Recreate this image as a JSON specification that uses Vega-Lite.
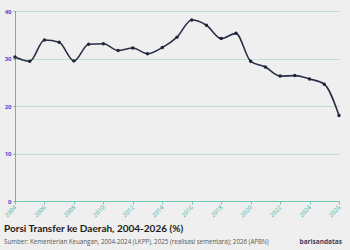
{
  "$schema": "https://vega.github.io/schema/vega-lite/v6.json",
  "width": 324,
  "height": 190,
  "autosize": {"type": "none"},
  "padding": {"left": 15, "top": 11, "right": 11, "bottom": 49},
  "background": "#efefef",
  "config": {"view": {"stroke": null}},
  "title": {
    "text": "Porsi Transfer ke Daerah, 2004-2026 (%)",
    "subtitle": "Sumber: Kementerian Keuangan, 2004-2024 (LKPP), 2025 (realisasi sementara); 2026 (APBN)",
    "orient": "bottom",
    "anchor": "start",
    "frame": "group",
    "offset": -21,
    "dx": -11,
    "font": "Lato",
    "fontSize": 10,
    "fontWeight": "bold",
    "color": "#1a1a1a",
    "subtitleFont": "Open Sans",
    "subtitleFontSize": 6.2,
    "subtitleColor": "#555555",
    "subtitlePadding": 5
  },
  "data": {
    "values": [
      {"year": 2004, "value": 30.3},
      {"year": 2005, "value": 29.4},
      {"year": 2006, "value": 33.9},
      {"year": 2007, "value": 33.4},
      {"year": 2008, "value": 29.5},
      {"year": 2009, "value": 33.0},
      {"year": 2010, "value": 33.1},
      {"year": 2011, "value": 31.7},
      {"year": 2012, "value": 32.2},
      {"year": 2013, "value": 31.0},
      {"year": 2014, "value": 32.3},
      {"year": 2015, "value": 34.5},
      {"year": 2016, "value": 38.1},
      {"year": 2017, "value": 37.0},
      {"year": 2018, "value": 34.2},
      {"year": 2019, "value": 35.3},
      {"year": 2020, "value": 29.4},
      {"year": 2021, "value": 28.2},
      {"year": 2022, "value": 26.3},
      {"year": 2023, "value": 26.4},
      {"year": 2024, "value": 25.7},
      {"year": 2025, "value": 24.6},
      {"year": 2026, "value": 18.0}
    ]
  },
  "encoding": {
    "x": {
      "field": "year",
      "type": "quantitative",
      "scale": {"domain": [2004, 2026], "nice": false, "zero": false},
      "axis": {
        "title": null,
        "values": [2004, 2006, 2008, 2010, 2012, 2014, 2016, 2018, 2020, 2022, 2024, 2026],
        "format": "d",
        "labelAngle": -45,
        "labelAlign": "right",
        "labelBaseline": "middle",
        "labelFontSize": 6,
        "labelFont": "Open Sans",
        "labelColor": "#3db5a3",
        "domainColor": "#6cc9b5",
        "tickColor": "#6cc9b5",
        "tickSize": 3,
        "labelPadding": 2,
        "grid": false
      }
    },
    "y": {
      "field": "value",
      "type": "quantitative",
      "scale": {"domain": [0, 40], "nice": false},
      "axis": {
        "title": null,
        "values": [0, 10, 20, 30, 40],
        "labelFontSize": 6,
        "labelFont": "Open Sans",
        "labelFontWeight": "bold",
        "labelColor": "#4b4bd6",
        "domainColor": "#6db890",
        "tickColor": "#6db890",
        "tickSize": 2,
        "labelPadding": 2,
        "gridColor": "#bfe0cc",
        "gridWidth": 1
      }
    }
  },
  "layer": [
    {
      "mark": {"type": "line", "color": "#2a2f47", "strokeWidth": 1.6, "interpolate": "monotone"}
    },
    {
      "mark": {"type": "point", "filled": true, "color": "#1f2438", "size": 12, "opacity": 1}
    },
    {
      "transform": [{"filter": "datum.year == 2026"}],
      "mark": {"type": "text", "text": "barisandatas", "font": "Open Sans", "fontWeight": "bold", "fontSize": 6.5, "color": "#3a3d63", "align": "right", "baseline": "middle"},
      "encoding": {
        "x": {"datum": 2026.2},
        "y": {"datum": -8.6}
      }
    }
  ]
}
